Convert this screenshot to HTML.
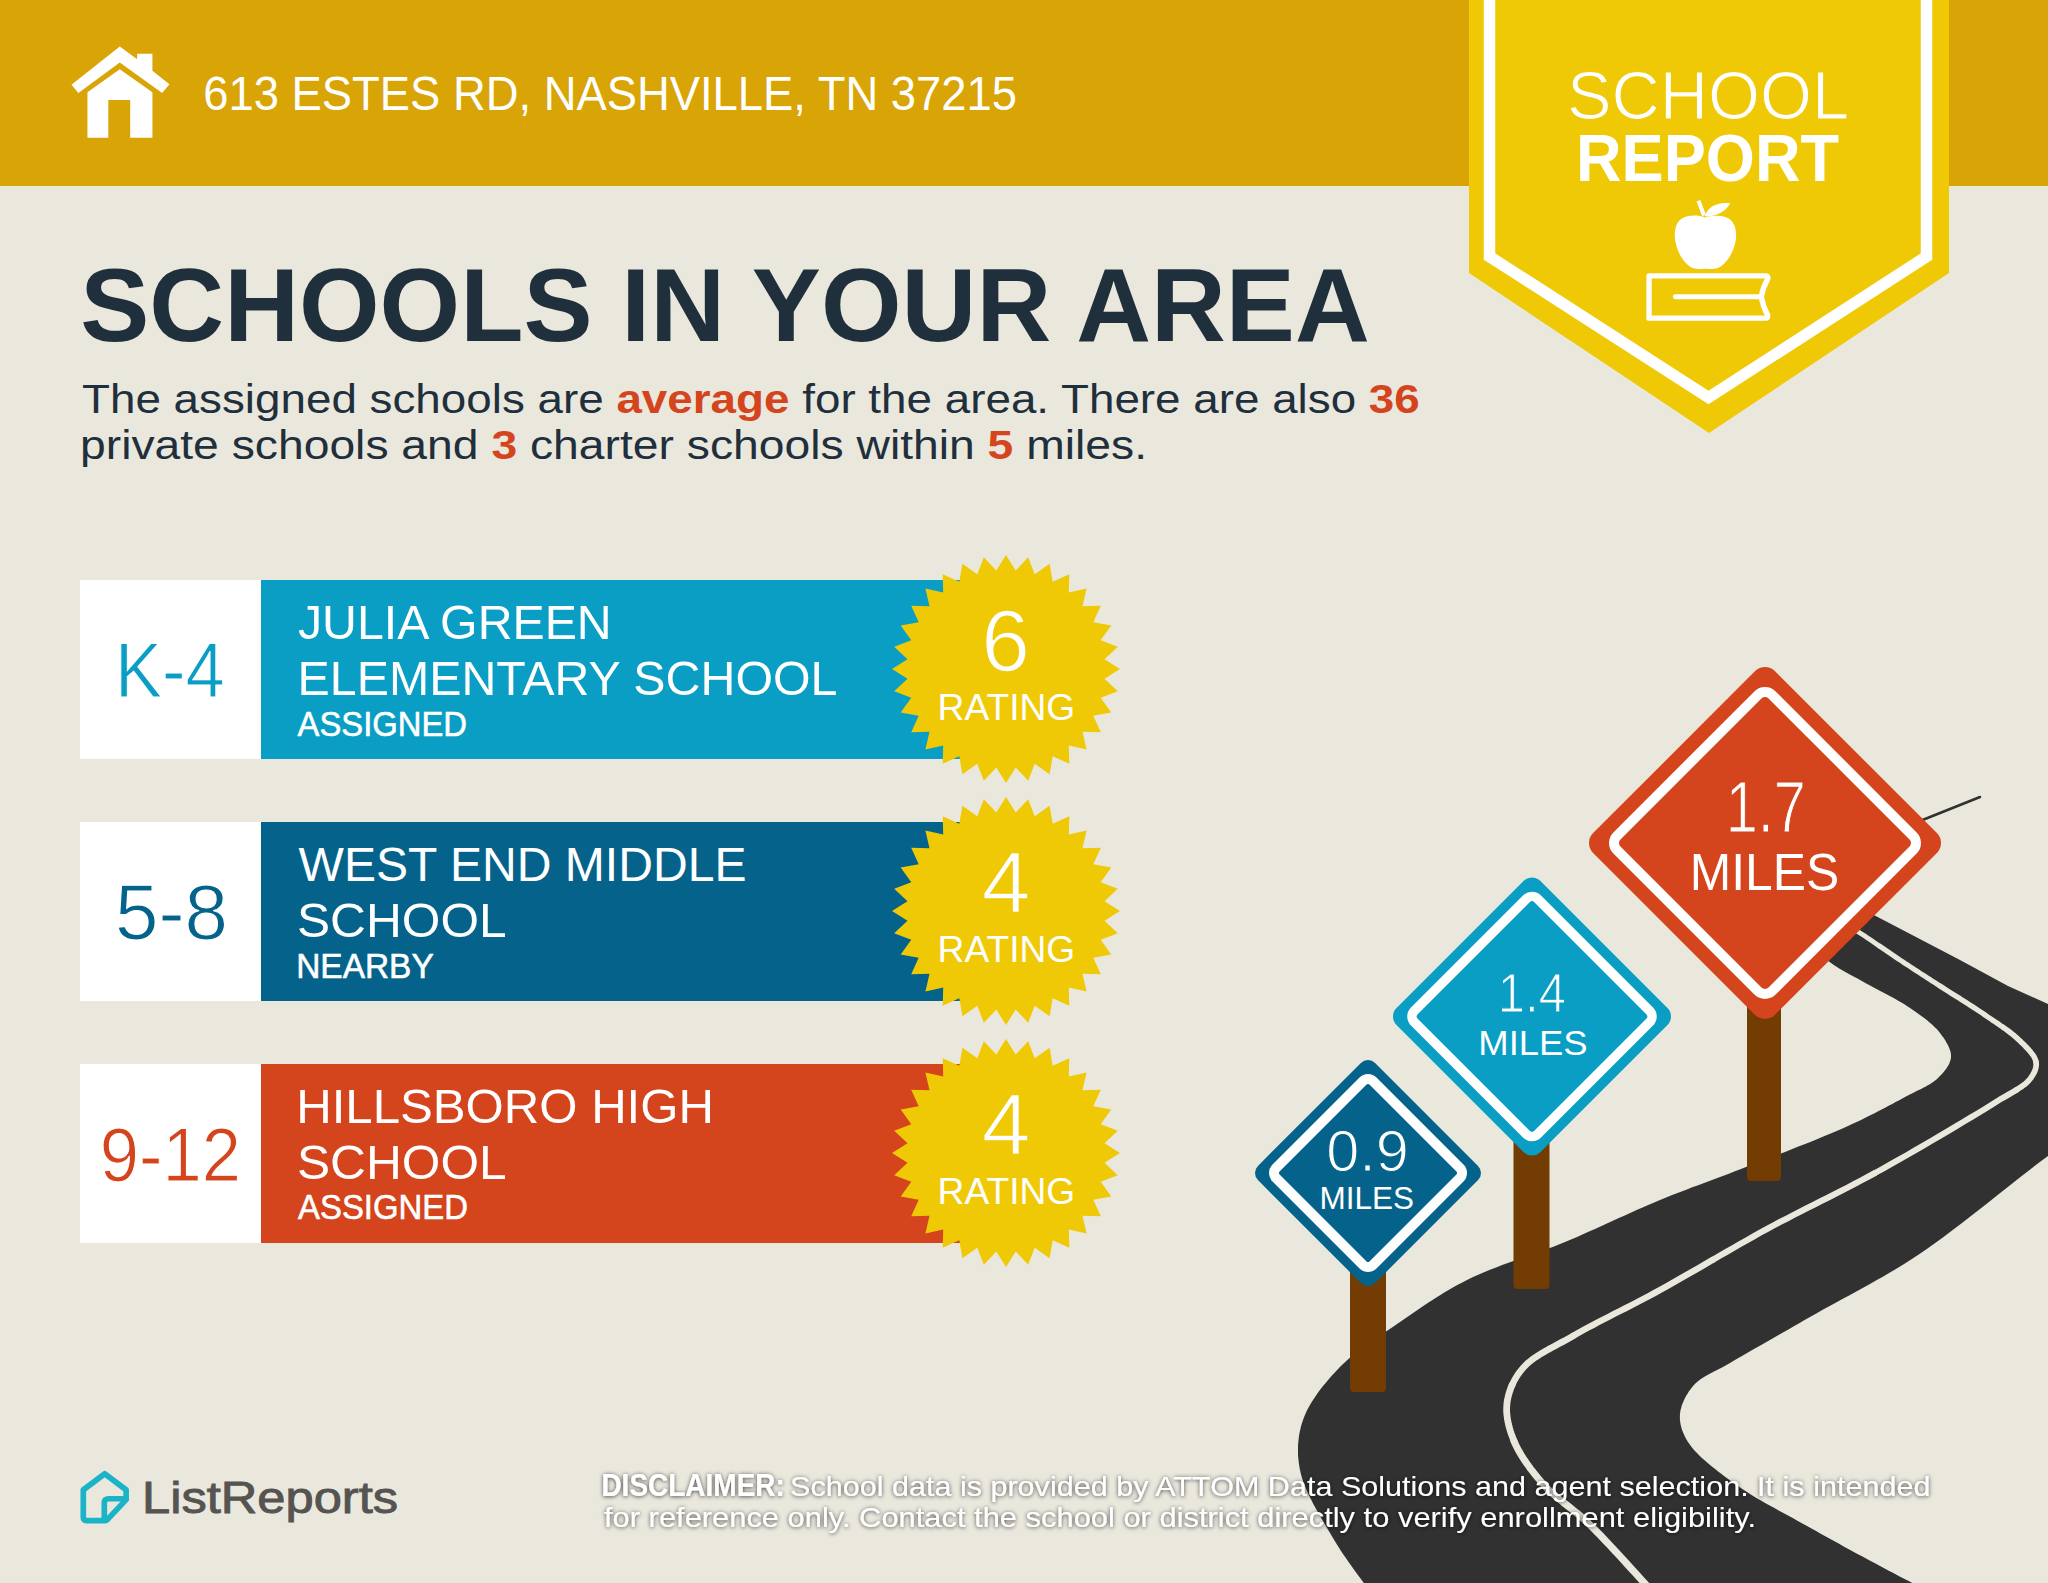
<!DOCTYPE html>
<html lang="en"><head><meta charset="utf-8"><title>School Report - 613 Estes Rd, Nashville, TN 37215</title>
<style>html,body{margin:0;padding:0;background:#EAE7DD;} body{width:2048px;height:1583px;overflow:hidden;} svg{display:block;}</style>
</head><body>
<svg width="2048" height="1583" viewBox="0 0 2048 1583" font-family="'Liberation Sans', Arial, sans-serif"><defs><filter id="sh" x="-5%" y="-50%" width="110%" height="200%"><feDropShadow dx="0" dy="0.6" stdDeviation="2.2" flood-color="#000" flood-opacity="0.75"/></filter></defs><rect width="2048" height="1583" fill="#EAE7DD"/><rect x="0" y="0" width="2048" height="186" fill="#D9A406"/>
<g transform="translate(60,36) scale(0.06949)" fill="#fff"><polygon points="165,700 860,150 1110,335 1110,255 1330,255 1330,500 1575,695 1470,820 860,380 265,820"/><polygon points="395,1465 395,810 860,480 1330,810 1330,1465 1010,1465 1010,920 695,920 695,1465"/></g>
<text id="addr" x="203.2" y="110" font-size="47.61" fill="#fff" font-weight="normal" text-anchor="start" textLength="813.8" lengthAdjust="spacingAndGlyphs">613 ESTES RD, NASHVILLE, TN 37215</text>
<polygon points="1469,0 1949,0 1949,273 1709,433 1469,273" fill="#F0C906"/>
<polyline points="1489.5,-10 1489.5,256.5 1708.5,397.5 1926.5,256.5 1926.5,-10" fill="none" stroke="#fff" stroke-width="11.5" stroke-linejoin="miter"/>
<text id="bschool" x="1567.0" y="119.4" font-size="68.02" fill="#fff" font-weight="normal" text-anchor="start" textLength="282.1" lengthAdjust="spacingAndGlyphs" stroke="#F0C906" stroke-width="1.2">SCHOOL</text>
<text id="breport" x="1576.0" y="180.5" font-size="67.25" fill="#fff" font-weight="bold" text-anchor="start" textLength="263.1" lengthAdjust="spacingAndGlyphs">REPORT</text>
<g transform="translate(1640,195) scale(0.08210)"><path d="M790,275 C700,235 560,245 490,300 C430,350 420,450 425,520 C435,650 500,780 580,850 C640,905 700,905 750,900 C775,897 805,897 830,900 C880,905 950,905 1010,850 C1090,780 1160,650 1170,520 C1175,440 1160,350 1100,300 C1040,250 900,235 790,275 Z" fill="#fff"/><path d="M712,70 L780,250" stroke="#fff" stroke-width="48" fill="none"/><path d="M790,255 C830,130 960,85 1100,100 C1050,190 960,250 820,262 Z" fill="#fff"/><path d="M110,985 L1540,985 Q1565,990 1555,1025 Q1495,1130 1478,1240 Q1495,1350 1555,1465 Q1562,1500 1530,1500 L110,1500 Z" fill="none" stroke="#fff" stroke-width="65" stroke-linejoin="round"/><path d="M430,1240 L1470,1240" stroke="#fff" stroke-width="60" stroke-linecap="round"/></g>
<text id="title" x="80.2" y="341.3" font-size="103.48" fill="#1F2F3C" font-weight="bold" text-anchor="start" textLength="1289.6" lengthAdjust="spacingAndGlyphs">SCHOOLS IN YOUR AREA</text>
<text id="body1" x="82.0" y="413" font-size="41.00" fill="#1F2F3C" textLength="1337.8" lengthAdjust="spacingAndGlyphs">The assigned schools are <tspan font-weight="bold" fill="#D4441D">average</tspan> for the area. There are also <tspan font-weight="bold" fill="#D4441D">36</tspan></text>
<text id="body2" x="80.0" y="458.5" font-size="41.00" fill="#1F2F3C" textLength="1067.0" lengthAdjust="spacingAndGlyphs">private schools and <tspan font-weight="bold" fill="#D4441D">3</tspan> charter schools within <tspan font-weight="bold" fill="#D4441D">5</tspan> miles.</text>
<rect x="80" y="580" width="181" height="179" fill="#fff"/>
<rect x="261" y="580" width="700" height="179" fill="#0A9EC4"/>
<text id="grade0" x="115.0" y="696.6" font-size="77.40" fill="#0A9EC4" font-weight="normal" text-anchor="start" textLength="109.8" lengthAdjust="spacingAndGlyphs" stroke="#fff" stroke-width="1.1">K-4</text>
<text id="l1_0" x="298.0" y="639" font-size="47.90" fill="#fff" font-weight="normal" text-anchor="start" textLength="313.7" lengthAdjust="spacingAndGlyphs">JULIA GREEN</text>
<text id="l2_0" x="297.6" y="695.1" font-size="47.90" fill="#fff" font-weight="normal" text-anchor="start" textLength="539.9" lengthAdjust="spacingAndGlyphs">ELEMENTARY SCHOOL</text>
<text id="l3_0" x="297.6" y="736" font-size="34.83" fill="#fff" font-weight="normal" text-anchor="start" textLength="169.3" lengthAdjust="spacingAndGlyphs" stroke="#fff" stroke-width="0.6">ASSIGNED</text>
<polygon points="1006.0,555.0 1015.7,570.5 1028.2,557.2 1034.7,574.3 1049.6,563.7 1052.7,581.7 1069.3,574.2 1068.8,592.5 1086.6,588.4 1082.5,606.2 1100.8,605.7 1093.3,622.3 1111.3,625.4 1100.7,640.3 1117.8,646.8 1104.5,659.3 1120.0,669.0 1104.5,678.7 1117.8,691.2 1100.7,697.7 1111.3,712.6 1093.3,715.7 1100.8,732.3 1082.5,731.8 1086.6,749.6 1068.8,745.5 1069.3,763.8 1052.7,756.3 1049.6,774.3 1034.7,763.7 1028.2,780.8 1015.7,767.5 1006.0,783.0 996.3,767.5 983.8,780.8 977.3,763.7 962.4,774.3 959.3,756.3 942.7,763.8 943.2,745.5 925.4,749.6 929.5,731.8 911.2,732.3 918.7,715.7 900.7,712.6 911.3,697.7 894.2,691.2 907.5,678.7 892.0,669.0 907.5,659.3 894.2,646.8 911.3,640.3 900.7,625.4 918.7,622.3 911.2,605.7 929.5,606.2 925.4,588.4 943.2,592.5 942.7,574.2 959.3,581.7 962.4,563.7 977.3,574.3 983.8,557.2 996.3,570.5" fill="#F0C906"/>
<text id="rnum0" x="1005.5" y="671" font-size="87.52" fill="#fff" font-weight="normal" text-anchor="middle" stroke="#F0C906" stroke-width="1.4">6</text>
<text id="rlab0" x="1006.4" y="720" font-size="37.25" fill="#fff" font-weight="normal" text-anchor="middle" textLength="137.7" lengthAdjust="spacingAndGlyphs">RATING</text>
<rect x="80" y="822" width="181" height="179" fill="#fff"/>
<rect x="261" y="822" width="700" height="179" fill="#05638B"/>
<text id="grade1" x="115.0" y="938.6" font-size="76.90" fill="#05638B" font-weight="normal" text-anchor="start" textLength="113.0" lengthAdjust="spacingAndGlyphs" stroke="#fff" stroke-width="1.1">5-8</text>
<text id="l1_1" x="298.5" y="881" font-size="47.90" fill="#fff" font-weight="normal" text-anchor="start" textLength="448.0" lengthAdjust="spacingAndGlyphs">WEST END MIDDLE</text>
<text id="l2_1" x="297.0" y="937.2" font-size="47.90" fill="#fff" font-weight="normal" text-anchor="start" textLength="209.6" lengthAdjust="spacingAndGlyphs">SCHOOL</text>
<text id="l3_1" x="296.2" y="977.5" font-size="34.83" fill="#fff" font-weight="normal" text-anchor="start" textLength="137.5" lengthAdjust="spacingAndGlyphs" stroke="#fff" stroke-width="0.6">NEARBY</text>
<polygon points="1006.0,797.0 1015.7,812.5 1028.2,799.2 1034.7,816.3 1049.6,805.7 1052.7,823.7 1069.3,816.2 1068.8,834.5 1086.6,830.4 1082.5,848.2 1100.8,847.7 1093.3,864.3 1111.3,867.4 1100.7,882.3 1117.8,888.8 1104.5,901.3 1120.0,911.0 1104.5,920.7 1117.8,933.2 1100.7,939.7 1111.3,954.6 1093.3,957.7 1100.8,974.3 1082.5,973.8 1086.6,991.6 1068.8,987.5 1069.3,1005.8 1052.7,998.3 1049.6,1016.3 1034.7,1005.7 1028.2,1022.8 1015.7,1009.5 1006.0,1025.0 996.3,1009.5 983.8,1022.8 977.3,1005.7 962.4,1016.3 959.3,998.3 942.7,1005.8 943.2,987.5 925.4,991.6 929.5,973.8 911.2,974.3 918.7,957.7 900.7,954.6 911.3,939.7 894.2,933.2 907.5,920.7 892.0,911.0 907.5,901.3 894.2,888.8 911.3,882.3 900.7,867.4 918.7,864.3 911.2,847.7 929.5,848.2 925.4,830.4 943.2,834.5 942.7,816.2 959.3,823.7 962.4,805.7 977.3,816.3 983.8,799.2 996.3,812.5" fill="#F0C906"/>
<text id="rnum1" x="1006.0" y="913" font-size="87.52" fill="#fff" font-weight="normal" text-anchor="middle" stroke="#F0C906" stroke-width="1.4">4</text>
<text id="rlab1" x="1006.4" y="962" font-size="37.25" fill="#fff" font-weight="normal" text-anchor="middle" textLength="137.7" lengthAdjust="spacingAndGlyphs">RATING</text>
<rect x="80" y="1064" width="181" height="179" fill="#fff"/>
<rect x="261" y="1064" width="700" height="179" fill="#D4441D"/>
<text id="grade2" x="99.8" y="1180.5" font-size="76.05" fill="#D4441D" font-weight="normal" text-anchor="start" textLength="141.1" lengthAdjust="spacingAndGlyphs" stroke="#fff" stroke-width="1.1">9-12</text>
<text id="l1_2" x="296.2" y="1123.4" font-size="47.90" fill="#fff" font-weight="normal" text-anchor="start" textLength="417.8" lengthAdjust="spacingAndGlyphs">HILLSBORO HIGH</text>
<text id="l2_2" x="297.0" y="1179.2" font-size="47.90" fill="#fff" font-weight="normal" text-anchor="start" textLength="209.6" lengthAdjust="spacingAndGlyphs">SCHOOL</text>
<text id="l3_2" x="298.0" y="1219.4" font-size="34.83" fill="#fff" font-weight="normal" text-anchor="start" textLength="170.0" lengthAdjust="spacingAndGlyphs" stroke="#fff" stroke-width="0.6">ASSIGNED</text>
<polygon points="1006.0,1039.0 1015.7,1054.5 1028.2,1041.2 1034.7,1058.3 1049.6,1047.7 1052.7,1065.7 1069.3,1058.2 1068.8,1076.5 1086.6,1072.4 1082.5,1090.2 1100.8,1089.7 1093.3,1106.3 1111.3,1109.4 1100.7,1124.3 1117.8,1130.8 1104.5,1143.3 1120.0,1153.0 1104.5,1162.7 1117.8,1175.2 1100.7,1181.7 1111.3,1196.6 1093.3,1199.7 1100.8,1216.3 1082.5,1215.8 1086.6,1233.6 1068.8,1229.5 1069.3,1247.8 1052.7,1240.3 1049.6,1258.3 1034.7,1247.7 1028.2,1264.8 1015.7,1251.5 1006.0,1267.0 996.3,1251.5 983.8,1264.8 977.3,1247.7 962.4,1258.3 959.3,1240.3 942.7,1247.8 943.2,1229.5 925.4,1233.6 929.5,1215.8 911.2,1216.3 918.7,1199.7 900.7,1196.6 911.3,1181.7 894.2,1175.2 907.5,1162.7 892.0,1153.0 907.5,1143.3 894.2,1130.8 911.3,1124.3 900.7,1109.4 918.7,1106.3 911.2,1089.7 929.5,1090.2 925.4,1072.4 943.2,1076.5 942.7,1058.2 959.3,1065.7 962.4,1047.7 977.3,1058.3 983.8,1041.2 996.3,1054.5" fill="#F0C906"/>
<text id="rnum2" x="1006.0" y="1155" font-size="87.52" fill="#fff" font-weight="normal" text-anchor="middle" stroke="#F0C906" stroke-width="1.4">4</text>
<text id="rlab2" x="1006.4" y="1204" font-size="37.25" fill="#fff" font-weight="normal" text-anchor="middle" textLength="137.7" lengthAdjust="spacingAndGlyphs">RATING</text>
<polygon points="1376.0,1600.0 1373.3,1596.1 1370.6,1592.3 1367.8,1588.5 1365.0,1584.6 1362.2,1580.8 1359.4,1577.0 1356.6,1573.2 1353.9,1569.4 1351.1,1565.5 1348.4,1561.7 1345.7,1557.8 1343.0,1553.9 1340.4,1550.0 1337.9,1546.0 1335.4,1542.0 1333.0,1538.0 1330.6,1533.9 1328.1,1529.7 1325.6,1525.5 1323.1,1521.2 1320.6,1516.9 1318.1,1512.6 1315.7,1508.3 1313.3,1503.9 1311.1,1499.6 1309.0,1495.2 1307.0,1490.9 1305.2,1486.6 1303.5,1482.4 1302.1,1478.2 1300.9,1474.1 1300.0,1470.0 1299.4,1466.7 1298.9,1463.5 1298.5,1460.3 1298.2,1457.1 1298.0,1453.9 1298.0,1450.7 1298.0,1447.6 1298.1,1444.5 1298.4,1441.4 1298.7,1438.3 1299.1,1435.2 1299.7,1432.1 1300.4,1429.1 1301.1,1426.0 1302.0,1423.0 1303.0,1420.0 1304.3,1416.6 1305.7,1413.2 1307.3,1409.8 1309.1,1406.5 1311.1,1403.1 1313.2,1399.8 1315.4,1396.4 1317.7,1393.1 1320.1,1389.8 1322.6,1386.6 1325.2,1383.4 1327.9,1380.2 1330.6,1377.1 1333.4,1374.0 1336.2,1371.0 1339.0,1368.0 1342.2,1364.8 1345.5,1361.7 1349.0,1358.6 1352.6,1355.6 1356.2,1352.6 1360.0,1349.7 1363.9,1346.8 1367.8,1344.0 1371.8,1341.2 1375.8,1338.4 1379.8,1335.6 1383.9,1332.9 1387.9,1330.2 1392.0,1327.4 1396.0,1324.7 1400.0,1322.0 1404.0,1319.2 1408.0,1316.5 1412.0,1313.7 1416.0,1311.0 1420.0,1308.2 1424.0,1305.5 1428.1,1302.8 1432.1,1300.2 1436.3,1297.5 1440.4,1294.9 1444.7,1292.3 1449.0,1289.8 1453.3,1287.3 1457.8,1284.8 1462.3,1282.4 1467.0,1280.0 1472.5,1277.3 1478.2,1274.7 1484.0,1272.2 1490.0,1269.8 1496.1,1267.4 1502.2,1265.1 1508.5,1262.8 1514.8,1260.6 1521.1,1258.3 1527.5,1256.1 1533.8,1253.8 1540.2,1251.5 1546.5,1249.2 1552.7,1246.9 1558.9,1244.5 1565.0,1242.0 1571.0,1239.5 1577.0,1236.9 1583.0,1234.3 1589.0,1231.6 1595.0,1228.9 1601.0,1226.2 1606.9,1223.5 1612.9,1220.8 1618.8,1218.1 1624.8,1215.4 1630.7,1212.7 1636.6,1210.1 1642.5,1207.5 1648.3,1204.9 1654.2,1202.4 1660.0,1200.0 1665.5,1197.8 1670.9,1195.6 1676.2,1193.5 1681.6,1191.4 1686.9,1189.4 1692.2,1187.3 1697.5,1185.4 1702.8,1183.4 1708.1,1181.4 1713.4,1179.4 1718.7,1177.4 1724.1,1175.4 1729.5,1173.4 1734.9,1171.3 1740.4,1169.2 1746.0,1167.0 1752.2,1164.6 1758.6,1162.1 1765.0,1159.6 1771.6,1157.0 1778.3,1154.5 1785.0,1151.9 1791.7,1149.2 1798.4,1146.6 1805.1,1144.0 1811.6,1141.4 1818.1,1138.7 1824.5,1136.1 1830.7,1133.6 1836.7,1131.0 1842.5,1128.5 1848.0,1126.0 1852.1,1124.1 1856.1,1122.2 1860.0,1120.4 1863.9,1118.5 1867.7,1116.6 1871.4,1114.8 1875.0,1112.9 1878.6,1111.1 1882.1,1109.2 1885.6,1107.4 1889.0,1105.6 1892.3,1103.9 1895.6,1102.1 1898.8,1100.4 1901.9,1098.7 1905.0,1097.0 1907.4,1095.7 1909.7,1094.5 1912.0,1093.4 1914.4,1092.2 1916.6,1091.1 1918.9,1090.0 1921.1,1088.9 1923.3,1087.8 1925.4,1086.7 1927.4,1085.6 1929.4,1084.4 1931.3,1083.2 1933.1,1082.0 1934.8,1080.7 1936.5,1079.4 1938.0,1078.0 1939.2,1076.8 1940.4,1075.6 1941.5,1074.4 1942.6,1073.2 1943.7,1071.9 1944.8,1070.6 1945.8,1069.3 1946.7,1068.0 1947.6,1066.6 1948.4,1065.3 1949.1,1063.9 1949.7,1062.5 1950.2,1061.1 1950.6,1059.8 1950.8,1058.4 1951.0,1057.0 1951.0,1055.6 1950.9,1054.1 1950.7,1052.6 1950.3,1051.1 1949.8,1049.6 1949.2,1048.0 1948.6,1046.5 1947.8,1045.0 1947.0,1043.4 1946.1,1041.9 1945.2,1040.3 1944.2,1038.8 1943.2,1037.3 1942.1,1035.9 1941.1,1034.4 1940.0,1033.0 1938.6,1031.3 1937.2,1029.6 1935.6,1028.0 1934.0,1026.4 1932.3,1024.8 1930.5,1023.2 1928.7,1021.7 1926.8,1020.1 1924.8,1018.6 1922.8,1017.0 1920.7,1015.5 1918.6,1014.0 1916.5,1012.5 1914.4,1011.0 1912.2,1009.5 1910.0,1008.0 1907.3,1006.2 1904.4,1004.3 1901.4,1002.5 1898.2,1000.7 1895.0,998.8 1891.7,997.0 1888.4,995.2 1885.1,993.4 1881.7,991.7 1878.4,989.9 1875.1,988.2 1871.9,986.5 1868.7,984.8 1865.7,983.2 1862.8,981.6 1860.0,980.0 1858.0,978.8 1856.0,977.7 1854.0,976.7 1852.2,975.7 1850.3,974.7 1848.5,973.7 1846.7,972.7 1844.9,971.7 1843.2,970.8 1841.4,969.8 1839.7,968.8 1838.0,967.7 1836.3,966.6 1834.5,965.5 1832.8,964.3 1831.0,963.0 1829.0,961.5 1827.1,960.0 1825.1,958.3 1823.2,956.7 1821.2,955.0 1819.3,953.2 1817.3,951.4 1815.4,949.6 1813.5,947.8 1811.6,945.9 1809.6,944.1 1807.7,942.2 1805.8,940.4 1803.9,938.6 1801.9,936.8 1800.0,935.0 1850.0,900.0 1870.0,913.0 1960.0,960.0 2008.0,986.0 2048.0,1004.0 2090.0,1025.0 2090.0,1130.0 2080.0,1135.0 2078.0,1136.3 2076.1,1137.5 2074.3,1138.7 2072.5,1139.8 2070.7,1141.0 2068.9,1142.1 2067.1,1143.2 2065.3,1144.4 2063.4,1145.6 2061.5,1146.8 2059.5,1148.1 2057.4,1149.5 2055.2,1151.0 2053.0,1152.5 2050.6,1154.2 2048.0,1156.0 2042.2,1160.2 2035.8,1165.0 2028.9,1170.4 2021.4,1176.2 2013.5,1182.4 2005.3,1188.9 1996.7,1195.7 1988.0,1202.7 1979.0,1209.7 1970.0,1216.8 1961.0,1223.8 1952.0,1230.6 1943.2,1237.2 1934.5,1243.5 1926.1,1249.5 1918.0,1255.0 1911.1,1259.5 1904.1,1263.9 1897.2,1268.2 1890.3,1272.3 1883.3,1276.4 1876.4,1280.3 1869.5,1284.2 1862.7,1288.0 1855.9,1291.7 1849.1,1295.4 1842.4,1299.1 1835.7,1302.7 1829.2,1306.3 1822.7,1309.8 1816.3,1313.4 1810.0,1317.0 1804.6,1320.1 1799.2,1323.2 1793.8,1326.3 1788.4,1329.4 1783.0,1332.4 1777.7,1335.5 1772.5,1338.5 1767.3,1341.4 1762.1,1344.4 1757.1,1347.2 1752.2,1350.0 1747.5,1352.8 1742.9,1355.5 1738.4,1358.1 1734.1,1360.6 1730.0,1363.0 1727.3,1364.6 1724.7,1366.0 1722.0,1367.4 1719.5,1368.7 1717.0,1370.0 1714.5,1371.3 1712.1,1372.5 1709.8,1373.7 1707.5,1374.9 1705.3,1376.2 1703.2,1377.5 1701.2,1378.8 1699.2,1380.2 1697.4,1381.7 1695.6,1383.3 1694.0,1385.0 1692.6,1386.6 1691.3,1388.2 1690.0,1389.9 1688.8,1391.6 1687.7,1393.4 1686.5,1395.2 1685.5,1397.0 1684.5,1398.9 1683.7,1400.8 1682.9,1402.7 1682.1,1404.6 1681.5,1406.5 1681.0,1408.4 1680.5,1410.3 1680.2,1412.2 1680.0,1414.0 1679.9,1415.7 1679.9,1417.5 1679.9,1419.2 1680.1,1421.0 1680.3,1422.7 1680.6,1424.5 1681.0,1426.2 1681.5,1427.9 1682.0,1429.7 1682.7,1431.4 1683.4,1433.2 1684.2,1435.0 1685.0,1436.7 1685.9,1438.5 1686.9,1440.2 1688.0,1442.0 1689.8,1444.6 1691.8,1447.2 1694.0,1449.9 1696.5,1452.6 1699.1,1455.2 1701.9,1457.9 1704.9,1460.6 1708.0,1463.3 1711.2,1465.9 1714.5,1468.6 1717.8,1471.2 1721.2,1473.8 1724.7,1476.4 1728.1,1479.0 1731.6,1481.5 1735.0,1484.0 1739.0,1486.8 1743.1,1489.6 1747.3,1492.3 1751.6,1495.0 1756.0,1497.7 1760.5,1500.3 1765.1,1502.9 1769.7,1505.5 1774.4,1508.1 1779.1,1510.7 1783.8,1513.2 1788.5,1515.8 1793.2,1518.3 1797.8,1520.9 1802.4,1523.4 1807.0,1526.0 1811.5,1528.6 1816.1,1531.1 1820.7,1533.7 1825.3,1536.2 1829.9,1538.8 1834.5,1541.3 1839.1,1543.8 1843.7,1546.4 1848.3,1548.9 1852.9,1551.4 1857.4,1553.9 1862.0,1556.3 1866.5,1558.8 1871.1,1561.2 1875.5,1563.6 1880.0,1566.0 1884.2,1568.2 1888.3,1570.4 1892.4,1572.6 1896.5,1574.7 1900.6,1576.9 1904.6,1579.0 1908.7,1581.1 1912.7,1583.2 1916.7,1585.3 1920.8,1587.4 1924.8,1589.5 1928.8,1591.6 1932.9,1593.7 1936.9,1595.8 1940.9,1597.9 1945.0,1600.0" fill="#313131"/>
<polyline points="1660.0,1600.0 1655.5,1595.1 1650.9,1590.2 1646.3,1585.1 1641.7,1580.1 1637.0,1574.9 1632.4,1569.8 1627.7,1564.7 1623.1,1559.6 1618.5,1554.6 1613.9,1549.7 1609.4,1544.9 1605.0,1540.2 1600.6,1535.6 1596.3,1531.2 1592.1,1527.0 1588.0,1523.0 1585.0,1520.2 1582.0,1517.5 1579.1,1515.0 1576.1,1512.5 1573.2,1510.2 1570.3,1507.9 1567.5,1505.7 1564.7,1503.5" fill="none" stroke="#EAE7DD" stroke-width="7.20" stroke-linejoin="round" stroke-linecap="round"/>
<polyline points="1564.7,1503.5 1561.9,1501.3 1559.2,1499.1 1556.5,1496.9 1553.9,1494.7 1551.3,1492.4 1548.8,1490.0 1546.4,1487.6 1544.0,1485.0 1541.8,1482.5 1539.5,1479.9 1537.3,1477.2 1535.1,1474.5 1533.0,1471.8 1530.8,1469.1 1528.8,1466.3 1526.8,1463.5 1524.9,1460.7 1523.0,1457.9 1521.2,1455.0 1519.6,1452.2 1518.0,1449.4 1516.5,1446.6 1515.2,1443.8 1514.0,1441.0" fill="none" stroke="#EAE7DD" stroke-width="6.98" stroke-linejoin="round" stroke-linecap="round"/>
<polyline points="1514.0,1441.0 1513.1,1438.6 1512.2,1436.3 1511.3,1433.9 1510.5,1431.5 1509.8,1429.1 1509.1,1426.7 1508.5,1424.3 1508.0,1421.8 1507.5,1419.4 1507.2,1417.1 1506.9,1414.7 1506.7,1412.3 1506.6,1410.0 1506.7,1407.6 1506.8,1405.3 1507.0,1403.0 1507.3,1400.7 1507.8,1398.4 1508.3,1396.1 1508.9,1393.9 1509.6,1391.6 1510.4,1389.3 1511.2,1387.0 1512.2,1384.8" fill="none" stroke="#EAE7DD" stroke-width="6.77" stroke-linejoin="round" stroke-linecap="round"/>
<polyline points="1512.2,1384.8 1513.3,1382.6 1514.4,1380.4 1515.6,1378.2 1516.9,1376.1 1518.3,1374.0 1519.8,1372.0 1521.4,1370.0 1523.0,1368.0 1525.2,1365.7 1527.5,1363.4 1530.1,1361.3 1532.8,1359.2 1535.6,1357.2 1538.6,1355.2 1541.7,1353.3 1545.0,1351.4 1548.3,1349.5 1551.7,1347.7 1555.1,1345.8 1558.6,1343.9 1562.2,1342.0 1565.8,1340.1 1569.4,1338.1 1573.0,1336.0" fill="none" stroke="#EAE7DD" stroke-width="6.55" stroke-linejoin="round" stroke-linecap="round"/>
<polyline points="1573.0,1336.0 1577.7,1333.3 1582.6,1330.6 1587.6,1327.8 1592.8,1325.1 1598.0,1322.3 1603.4,1319.5 1608.9,1316.7 1614.4,1313.8 1620.0,1311.0 1625.7,1308.1 1631.4,1305.2 1637.1,1302.2 1642.8,1299.2 1648.6,1296.2 1654.3,1293.1 1660.0,1290.0 1666.4,1286.5 1672.9,1282.8 1679.4,1279.1 1686.0,1275.3 1692.6,1271.5 1699.3,1267.7 1706.0,1263.8 1712.8,1259.8" fill="none" stroke="#EAE7DD" stroke-width="6.33" stroke-linejoin="round" stroke-linecap="round"/>
<polyline points="1712.8,1259.8 1719.5,1255.9 1726.3,1252.0 1733.1,1248.1 1739.9,1244.2 1746.7,1240.3 1753.5,1236.5 1760.2,1232.7 1767.0,1229.0 1773.7,1225.4 1780.4,1221.8 1787.1,1218.4 1793.8,1214.9 1800.5,1211.5 1807.2,1208.1 1813.9,1204.7 1820.6,1201.3 1827.3,1197.9 1834.1,1194.5 1840.9,1191.1 1847.6,1187.6 1854.4,1184.0 1861.3,1180.4 1868.1,1176.8 1875.0,1173.0" fill="none" stroke="#EAE7DD" stroke-width="6.12" stroke-linejoin="round" stroke-linecap="round"/>
<polyline points="1875.0,1173.0 1882.6,1168.8 1890.4,1164.4 1898.4,1159.9 1906.7,1155.2 1915.0,1150.4 1923.3,1145.6 1931.6,1140.7 1939.9,1135.9 1948.0,1131.1 1955.9,1126.4 1963.6,1121.8 1970.9,1117.4 1977.9,1113.2 1984.5,1109.2 1990.5,1105.4 1996.0,1102.0 1998.8,1100.3 2001.5,1098.6 2004.2,1097.1 2006.8,1095.6 2009.3,1094.1 2011.7,1092.7 2014.0,1091.4 2016.3,1090.0" fill="none" stroke="#EAE7DD" stroke-width="5.90" stroke-linejoin="round" stroke-linecap="round"/>
<polyline points="2016.3,1090.0 2018.4,1088.7 2020.4,1087.4 2022.3,1086.1 2024.1,1084.7 2025.8,1083.4 2027.3,1082.0 2028.7,1080.5 2030.0,1079.0 2030.8,1078.0 2031.5,1076.9 2032.2,1075.9 2032.8,1074.9 2033.4,1073.8 2034.0,1072.8 2034.5,1071.7 2034.9,1070.6 2035.3,1069.6 2035.6,1068.5 2035.9,1067.4 2036.0,1066.3 2036.2,1065.2 2036.2,1064.2 2036.1,1063.1 2036.0,1062.0" fill="none" stroke="#EAE7DD" stroke-width="5.68" stroke-linejoin="round" stroke-linecap="round"/>
<polyline points="2036.0,1062.0 2035.7,1060.6 2035.2,1059.3 2034.6,1057.9 2033.9,1056.5 2033.0,1055.1 2032.0,1053.8 2030.9,1052.4 2029.8,1051.0 2028.6,1049.6 2027.3,1048.2 2025.9,1046.8 2024.6,1045.4 2023.2,1044.0 2021.8,1042.7 2020.4,1041.3 2019.0,1040.0 2017.3,1038.4 2015.5,1036.8 2013.6,1035.2 2011.6,1033.6 2009.6,1032.0 2007.6,1030.5 2005.4,1028.9 2003.3,1027.4" fill="none" stroke="#EAE7DD" stroke-width="5.47" stroke-linejoin="round" stroke-linecap="round"/>
<polyline points="2003.3,1027.4 2001.0,1025.9 1998.8,1024.3 1996.5,1022.8 1994.2,1021.2 1991.9,1019.7 1989.6,1018.1 1987.3,1016.6 1985.0,1015.0 1982.4,1013.2 1979.7,1011.4 1977.0,1009.6 1974.2,1007.8 1971.4,1006.0 1968.5,1004.1 1965.7,1002.3 1962.8,1000.5 1959.9,998.6 1957.0,996.8 1954.1,995.0 1951.2,993.2 1948.4,991.4 1945.5,989.6 1942.8,987.8 1940.0,986.0" fill="none" stroke="#EAE7DD" stroke-width="5.25" stroke-linejoin="round" stroke-linecap="round"/>
<polyline points="1940.0,986.0 1937.4,984.3 1934.9,982.7 1932.3,981.1 1929.8,979.4 1927.3,977.8 1924.8,976.2 1922.3,974.6 1919.8,973.0 1917.4,971.4 1914.9,969.8 1912.4,968.1 1909.9,966.5 1907.5,964.9 1905.0,963.3 1902.5,961.6 1900.0,960.0 1897.5,958.3 1895.0,956.6 1892.4,954.9 1889.9,953.2 1887.3,951.4 1884.8,949.7 1882.2,947.9 1879.7,946.2" fill="none" stroke="#EAE7DD" stroke-width="5.03" stroke-linejoin="round" stroke-linecap="round"/>
<polyline points="1879.7,946.2 1877.1,944.4 1874.6,942.7 1872.1,941.0 1869.6,939.3 1867.2,937.7 1864.8,936.1 1862.4,934.5 1860.0,933.0 1858.0,931.7 1856.1,930.5 1854.1,929.3 1852.2,928.2 1850.3,927.0 1848.5,925.9 1846.6,924.8 1844.8,923.7 1842.9,922.6 1841.1,921.5 1839.2,920.5 1837.4,919.4 1835.6,918.3 1833.7,917.2 1831.9,916.1 1830.0,915.0" fill="none" stroke="#EAE7DD" stroke-width="4.82" stroke-linejoin="round" stroke-linecap="round"/>
<path d="M1900,829 L1980,797" stroke="#313131" stroke-width="2.6" stroke-linecap="round"/>
<rect x="1747" y="931" width="34" height="250" rx="4" fill="#723C03"/>
<rect x="1513.5" y="1039" width="36.0" height="250" rx="4" fill="#723C03"/>
<rect x="1350" y="1142" width="36" height="250" rx="4" fill="#723C03"/>
<rect x="-128.55" y="-128.55" width="257.10" height="257.10" rx="14" transform="translate(1765,843) rotate(45)" fill="#D4441D"/>
<rect x="-109.70" y="-109.70" width="219.40" height="219.40" rx="10" transform="translate(1765,843) rotate(45)" fill="none" stroke="#fff" stroke-width="10"/>
<text id="snum0" x="1765.8" y="831.8" font-size="72.89" fill="#fff" font-weight="normal" text-anchor="middle" textLength="80.1" lengthAdjust="spacingAndGlyphs" stroke="#D4441D" stroke-width="1.2">1.7</text>
<text id="smil0" x="1764.5" y="890.3" font-size="52.00" fill="#fff" font-weight="normal" text-anchor="middle" textLength="149.3" lengthAdjust="spacingAndGlyphs">MILES</text>
<rect x="-101.80" y="-101.80" width="203.61" height="203.61" rx="12" transform="translate(1532,1016.5) rotate(45)" fill="#0A9EC4"/>
<rect x="-87.20" y="-87.20" width="174.39" height="174.39" rx="8" transform="translate(1532,1016.5) rotate(45)" fill="none" stroke="#fff" stroke-width="9.5"/>
<text id="snum1" x="1531.9" y="1012" font-size="55.18" fill="#fff" font-weight="normal" text-anchor="middle" textLength="68.1" lengthAdjust="spacingAndGlyphs" stroke="#0A9EC4" stroke-width="1.2">1.4</text>
<text id="smil1" x="1533.0" y="1055.3" font-size="35.50" fill="#fff" font-weight="normal" text-anchor="middle" textLength="109.4" lengthAdjust="spacingAndGlyphs">MILES</text>
<rect x="-82.83" y="-82.83" width="165.66" height="165.66" rx="10" transform="translate(1368,1173) rotate(45)" fill="#05638B"/>
<rect x="-68.52" y="-68.52" width="137.04" height="137.04" rx="7" transform="translate(1368,1173) rotate(45)" fill="none" stroke="#fff" stroke-width="10"/>
<text id="snum2" x="1367.6" y="1171.2" font-size="56.56" fill="#fff" font-weight="normal" text-anchor="middle" textLength="82.7" lengthAdjust="spacingAndGlyphs" stroke="#05638B" stroke-width="1.2">0.9</text>
<text id="smil2" x="1366.8" y="1209.2" font-size="32.18" fill="#fff" font-weight="normal" text-anchor="middle" textLength="94.4" lengthAdjust="spacingAndGlyphs">MILES</text>
<g transform="translate(74,1464) scale(0.04042)" fill="none" stroke="#1AB3C8" stroke-width="140" stroke-linejoin="round" stroke-linecap="round"><path d="M750,1340 L750,960 Q750,860 860,860 L1290,860 L1290,640 L760,240 L230,640 L230,1320 Q230,1400 310,1400 L770,1400 Q800,1400 830,1370 L1290,880"/></g>
<text id="logo" x="142.0" y="1512.9" font-size="43.66" fill="#555451" font-weight="normal" text-anchor="start" textLength="256.1" lengthAdjust="spacingAndGlyphs" stroke="#555451" stroke-width="0.9">ListReports</text>
<g filter="url(#sh)">
<text id="disc1a" x="601.4" y="1496" font-size="31.27" fill="#fff" textLength="183.5" lengthAdjust="spacingAndGlyphs"><tspan font-weight="bold">DISCLAIMER:</tspan></text>
<text id="disc1" x="790.0" y="1496" font-size="27.90" fill="#fff" textLength="1140.4" lengthAdjust="spacingAndGlyphs">School data is provided by ATTOM Data Solutions and agent selection. It is intended</text>
<text id="disc2" x="604.0" y="1526.8" font-size="27.90" fill="#fff" textLength="1152.0" lengthAdjust="spacingAndGlyphs">for reference only. Contact the school or district directly to verify enrollment eligibility.</text>
</g></svg>
</body></html>
